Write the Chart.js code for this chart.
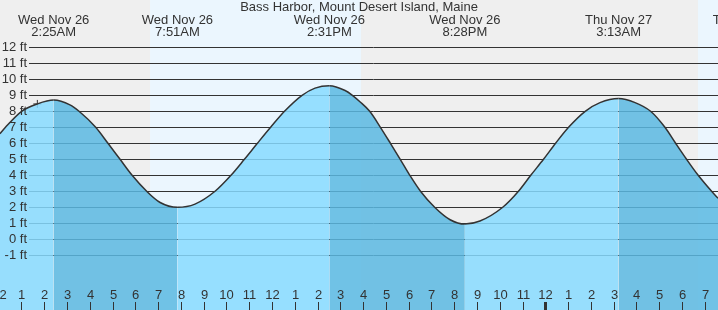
<!DOCTYPE html>
<html>
<head>
<meta charset="utf-8">
<script src="https://cdn.jsdelivr.net/npm/chart.js@4.4.0/dist/chart.umd.min.js"></script>
<style>
  html, body { margin: 0; padding: 0; background: #fff; }
</style>
</head>
<body>
<canvas id="tideChart" width="718" height="310"></canvas>
<script>
// tide curve (hours after midnight Wed, feet)
const hours   = [0.06, 0.30, 1.01, 1.70, 2.417, 3.13, 3.53, 4.26, 4.80, 5.33, 5.86, 6.50, 7.09, 7.85, 8.62,
                 9.50, 10.20, 10.79, 11.36, 11.94, 12.55, 13.32, 13.89, 14.517, 15.21, 15.53, 15.86, 16.29, 16.76,
                 17.20, 17.63, 18.05, 18.52, 19.14, 19.82, 20.467, 21.13, 22.13, 22.82, 23.36, 23.92, 24.45,
                 25.02, 25.75, 26.40, 27.217, 27.94, 28.62, 29.25, 29.72, 30.20, 30.71, 31.30, 31.58];
const heights = [6.6, 7.0, 8.0, 8.46, 8.7, 8.4, 8.0, 7.0, 6.0, 5.0, 4.0, 3.0, 2.3, 2.0, 2.2,
                 3.0, 4.0, 5.0, 6.0, 7.0, 8.0, 9.0, 9.45, 9.6, 9.3, 9.0, 8.6, 8.0, 7.0,
                 6.0, 5.0, 4.0, 3.0, 2.0, 1.22, 0.95, 1.14, 2.0, 3.0, 4.0, 5.0, 6.0,
                 7.0, 8.0, 8.54, 8.8, 8.54, 8.0, 7.0, 6.0, 5.0, 4.0, 3.0, 2.57];

// high / low tide labels along the top
const tideHours = [2.417, 7.85, 14.517, 20.467, 27.217, 32.82];
const tideDays  = ['Wed Nov 26', 'Wed Nov 26', 'Wed Nov 26', 'Wed Nov 26', 'Thu Nov 27', 'Thu Nov 27'];
const tideClock = ['2:25AM', '7:51AM', '2:31PM', '8:28PM', '3:13AM', '8:49AM'];

// "now" marker
const markHour = [1.70];
const markFt   = [8.46];

// daylight (sunrise, sunset) in hours
const daylight = [[6.65, 15.91], [30.70, 40]];

const ftTicks  = [-1, 0, 1, 2, 3, 4, 5, 6, 7, 8, 9, 10, 11, 12];
const ftLabels = ['-1 ft', '0 ft', '1 ft', '2 ft', '3 ft', '4 ft', '5 ft', '6 ft', '7 ft', '8 ft', '9 ft', '10 ft', '11 ft', '12 ft'];
const hourTicks  = [0, 1, 2, 3, 4, 5, 6, 7, 8, 9, 10, 11, 12, 13, 14, 15, 16, 17, 18, 19, 20, 21, 22, 23, 24, 25, 26, 27, 28, 29, 30, 31];
const hourLabels = ['12', '1', '2', '3', '4', '5', '6', '7', '8', '9', '10', '11', '12', '1', '2', '3', '4', '5', '6', '7', '8', '9', '10', '11', '12', '1', '2', '3', '4', '5', '6', '7'];
const midnightHour = 24;

const TITLE = 'Bass Harbor, Mount Desert Island, Maine';
const FONT = '"Liberation Sans", Arial, sans-serif';
const TEXT = '#333';
const NIGHT = '#efefef';
const DAY = '#ebf6fe';
const RISE = 'rgba(135, 218, 255, 0.85)';
const FALL = 'rgba(90, 184, 226, 0.85)';

const tideDecor = {
  id: 'tideDecor',
  beforeDraw(chart) {
    const { ctx, chartArea: a, scales: { x } } = chart;
    ctx.save();
    ctx.fillStyle = NIGHT;
    ctx.fillRect(a.left, a.top, a.right - a.left, a.bottom - a.top);
    ctx.fillStyle = DAY;
    daylight.forEach(([s, e]) => {
      const x0 = x.getPixelForValue(s), x1 = x.getPixelForValue(e);
      ctx.fillRect(x0, a.top, x1 - x0, a.bottom - a.top);
    });
    ctx.restore();
  },
  beforeDatasetsDraw(chart) {
    // horizontal lines start right of the ft labels
    const { ctx, chartArea: a, scales: { y } } = chart;
    ctx.save();
    ctx.strokeStyle = '#333';
    ctx.lineWidth = 1;
    ftTicks.forEach(v => {
      const py = Math.round(y.getPixelForValue(v)) + 0.5;
      ctx.beginPath();
      ctx.moveTo(29, py);
      ctx.lineTo(a.right, py);
      ctx.stroke();
    });
    ctx.restore();
  },
  afterDraw(chart) {
    const { ctx, chartArea: a, scales: { x, y } } = chart;
    ctx.save();
    ctx.fillStyle = TEXT;
    ctx.font = '13px ' + FONT;
    ctx.textBaseline = 'middle';

    // ft labels
    ctx.textAlign = 'right';
    ftTicks.forEach((v, i) => {
      ctx.fillText(ftLabels[i], 27, y.getPixelForValue(v) + 0.5);
    });

    // hour labels and tick marks
    ctx.textAlign = 'center';
    hourTicks.forEach((h, i) => {
      const px = Math.round(x.getPixelForValue(h));
      ctx.fillText(hourLabels[i], px + 0.5, 295);
      if (h === midnightHour) ctx.fillRect(px - 1, 302, 3, a.bottom - 302);
      else ctx.fillRect(px, 302, 1, a.bottom - 302);
    });

    // title + tide times
    ctx.fillText(TITLE, (a.left + a.right) / 2, 7.5);
    tideHours.forEach((h, i) => {
      const px = x.getPixelForValue(h);
      ctx.fillText(tideDays[i], px, 20.5);
      ctx.fillText(tideClock[i], px, 32.5);
    });
    ctx.restore();
  }
};

new Chart(document.getElementById('tideChart'), {
  type: 'line',
  data: {
    datasets: [
      {
        data: hours.map((h, i) => ({ x: h, y: heights[i] })),
        borderColor: '#333',
        borderWidth: 1.5,
        pointRadius: 0,
        fill: 'start',
        backgroundColor: RISE,
        cubicInterpolationMode: 'monotone',
        segment: {
          backgroundColor: c => (c.p1.parsed.y < c.p0.parsed.y ? FALL : RISE)
        }
      },
      {
        type: 'scatter',
        data: markHour.map((h, i) => ({ x: h, y: markFt[i] })),
        pointStyle: 'cross',
        pointRadius: 4,
        borderColor: '#333',
        borderWidth: 1
      }
    ]
  },
  options: {
    responsive: false,
    animation: false,
    devicePixelRatio: 1,
    layout: { padding: 0, autoPadding: false },
    plugins: { legend: { display: false }, tooltip: { enabled: false }, title: { display: false } },
    scales: {
      x: { type: 'linear', display: false, min: 0.06, max: 31.58 },
      y: { display: false, min: -4.42, max: 14.956 }
    }
  },
  plugins: [tideDecor]
});
</script>
</body>
</html>
